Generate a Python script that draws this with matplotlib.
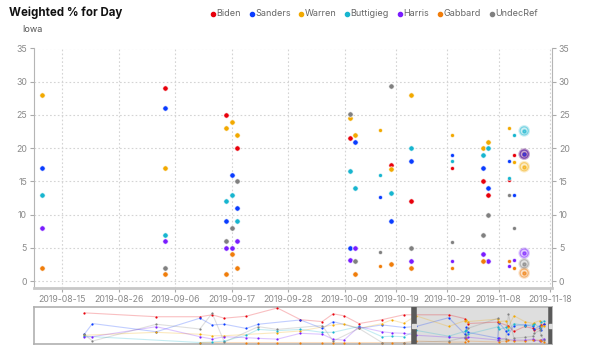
import numpy as np
import pandas as pd
import matplotlib
matplotlib.use("Agg")
import matplotlib.pyplot as plt
import matplotlib.dates as mdates
from matplotlib.lines import Line2D

plt.rcParams['font.family'] = ['Inter', 'DejaVu Sans']

nan = np.nan

# poll dates shown in the main chart
dates = ['2019-08-11', '2019-09-04', '2019-09-16', '2019-09-17', '2019-09-18',
         '2019-10-10', '2019-10-11', '2019-10-16', '2019-10-18', '2019-10-22',
         '2019-10-30', '2019-11-05', '2019-11-06', '2019-11-10', '2019-11-11',
         '2019-11-13']
small_dates = ['2019-10-16', '2019-10-30', '2019-11-10', '2019-11-11']
ring_date = '2019-11-13'

candidates = ['Biden', 'Sanders', 'Warren', 'Buttigieg', 'Harris', 'Gabbard', 'UndecRef']
colors = ['#e8000b', '#0a3cff', '#f2a900', '#17b5cf', '#7a1cff', '#f07d0a', '#808080']

biden = [nan, 29, 25, nan, 20, 21.5, nan, nan, 17.5, 12, 17, 15, 13, 15.2, 19, 19.1]
sanders = [17, 26, 9, 16, 11, 5, 21, 12.6, 9, 18, 18.9, 17, 14, 18, 13, 19.1]
warren = [28, 17, 23, 24, 22, 24.6, 22, 22.7, 16.8, 28, 22, 20, 21, 23, 17.9, 17.2]
buttigieg = [13, 7, 12, 13, 9, 16.6, 14, 16, 13.2, 20, 18, 19, 20, 15.5, 22, 22.6]
harris = [8, 6, 5, 5, 6, 3.1, 5, nan, nan, 3, 3, 4, 3, 2.3, 3.1, 4.2]
gabbard = [2, 1, 1, 4, 2, nan, 1, 2.2, 2.6, 2, 2, 3, nan, 3, 2, 1.2]
undecref = [nan, 2, 6, 8, 15, 25.2, 3, 4.4, 29.4, 5, 5.9, 7, 10, 12.9, 8, 2.6]
series = [biden, sanders, warren, buttigieg, harris, gabbard, undecref]

# earlier history only visible in the navigator strip
nav_dates = ['2018-12-10', '2018-12-16', '2019-02-01', '2019-03-05', '2019-03-14',
             '2019-03-23', '2019-04-08', '2019-04-17', '2019-05-01', '2019-05-18',
             '2019-06-03', '2019-06-11', '2019-06-19', '2019-06-30', '2019-07-17',
             '2019-07-24', '2019-08-02']
nav_biden = [31, nan, 27, 27, 29, 25.5, 27.5, nan, 36, 24, 22, 30, 28, 20, 24, nan, 29]
nav_sanders = [9, 20, 11.6, 25.5, 18.6, 19.3, 15, 19.3, nan, 23.7, 15, 22, nan, 15, 18.6, nan, 16]
nav_warren = [8, nan, 11, 9, 7.5, 7.5, nan, nan, 10.6, 12.4, nan, 18.6, 19.6, 15, 20, 23.7, 20.3]
nav_buttigieg = [7, nan, nan, 0.5, 1, 2, 8, 14, 12.7, 14, 11, 11, nan, 17, 6.5, 7, 6.5]
nav_harris = [6, 6.5, 16.8, 6.5, 4.1, 6.5, 5.5, 4.8, 4, 10, 9, 4, 3, 16.8, 11.6, 10.5, 10]
nav_gabbard = [nan, nan, nan, 0.5, nan, nan, 0.5, 0.5, 0.5, 0.5, 0.5, 0.5, 0.5, 0.5, 0.5, 0.5, 0.5]
nav_undecref = [9, 2, 19.3, 14.4, 30.6, 1, nan, 16.8, 14, nan, 18, 2, nan, 15, 0.5, nan, 0.5]
nav_series = [nav_biden, nav_sanders, nav_warren, nav_buttigieg, nav_harris, nav_gabbard, nav_undecref]

xticks = ['2019-08-15', '2019-08-26', '2019-09-06', '2019-09-17', '2019-09-28',
          '2019-10-09', '2019-10-19', '2019-10-29', '2019-11-08', '2019-11-18']
yticks = [0, 5, 10, 15, 20, 25, 30, 35]

d = pd.to_datetime(dates)
small_mask = d.isin(pd.to_datetime(small_dates))
ring_mask = d == pd.Timestamp(ring_date)
norm_mask = ~small_mask & ~ring_mask

fig = plt.figure(figsize=(6, 3.51), dpi=100)
ax = fig.add_axes([34 / 600, 1 - 288 / 351, 518 / 600, 239.5 / 351])

gridc = '#d4d4d4'
tc = '#8a8a8a'
for v in yticks:
    ax.axhline(v, color=gridc, lw=0.8, ls=(0, (1.5, 2)), zorder=0)
for t in xticks:
    ax.axvline(pd.Timestamp(t), color=gridc, lw=0.8, ls=(0, (1.5, 2)), zorder=0)

for vals, c in zip(series, colors):
    y = np.array(vals, dtype=float)
    ax.scatter(d[norm_mask], y[norm_mask], s=15, color=c, edgecolor='white', linewidth=0.5, zorder=3)
    ax.scatter(d[small_mask], y[small_mask], s=8, color=c, edgecolor='white', linewidth=0.4, zorder=3)
    ax.scatter(d[ring_mask], y[ring_mask], s=70, color=c, alpha=0.22, edgecolor='none', zorder=2)
    ax.scatter(d[ring_mask], y[ring_mask], s=34, facecolor='none', edgecolor=c, alpha=0.45, linewidth=0.9, zorder=3)
    ax.scatter(d[ring_mask], y[ring_mask], s=5, color=c, alpha=0.6, zorder=3)

ax.set_xlim(pd.Timestamp('2019-08-15') - pd.Timedelta(days=5.5),
            pd.Timestamp('2019-11-18') + pd.Timedelta(hours=10))
ax.set_ylim(-1.05, 35)
ax.set_xticks(pd.to_datetime(xticks))
ax.xaxis.set_major_formatter(mdates.DateFormatter('%Y-%m-%d'))
ax.set_yticks(yticks)
ax.tick_params(axis='both', colors='#aaaaaa', labelcolor=tc, labelsize=6.3, length=3, width=0.8)
ax.tick_params(axis='y', left=True, right=True, labelleft=True, labelright=True, pad=2)
ax.tick_params(axis='x', pad=2)
for s in ['left', 'right']:
    ax.spines[s].set_color('#b5b5b5')
    ax.spines[s].set_linewidth(0.8)
ax.spines['bottom'].set_color('#c8c8c8')
ax.spines['bottom'].set_linewidth(2)
ax.spines['top'].set_visible(False)
ax.patch.set_alpha(0)

# title, subtitle, legend
fig.text(9 / 600, 1 - 12.5 / 351, 'Weighted % for Day', fontsize=8.3, fontweight='bold',
         va='center', ha='left', color='#111111')
fig.text(22 / 600, 1 - 30 / 351, 'Iowa', fontsize=6.5, va='center', ha='left', color='#555555')
leg_x = [212.5, 252, 301, 346.5, 400, 440, 491.5]
for name, c, x in zip(candidates, colors, leg_x):
    fig.add_artist(Line2D([x / 600], [1 - 13.5 / 351], marker='o', markersize=3, color=c,
                          linestyle='none', transform=fig.transFigure))
    fig.text((x + 3.5) / 600, 1 - 13.5 / 351, name, fontsize=6.5, va='center', ha='left', color='#666666')

# navigator
nav = fig.add_axes([34 / 600, 1 - 344 / 351, 518 / 600, 37 / 351])
nd = pd.to_datetime(nav_dates).append(d)
for early, vals, c in zip(nav_series, series, colors):
    y = np.concatenate([np.array(early, dtype=float), np.array(vals, dtype=float)])
    ok = ~np.isnan(y)
    nav.plot(nd[ok], y[ok], color=c, lw=0.8, alpha=0.25, zorder=2)
    nav.scatter(nd[ok], y[ok], s=2.5, color=c, zorder=3, linewidth=0)
x0, x1 = ax.get_xlim()
nav.axvspan(mdates.num2date(x0), mdates.num2date(x1), color='#d3d3d3', alpha=0.75, zorder=1, lw=0)
for xx in (x0, x1):
    nav.axvline(mdates.num2date(xx), color='#5a5a5a', lw=4, zorder=4)
    nav.plot([mdates.num2date(xx)], [17.5], marker='s', markersize=2.5, color='#dddddd', zorder=5)
nav.set_xlim(pd.Timestamp('2018-11-03'), pd.Timestamp('2019-11-19'))
nav.set_ylim(-1, 37)
nav.set_xticks([])
nav.set_yticks([])
for s in nav.spines.values():
    s.set_color('#b0b0b0')
    s.set_linewidth(1.2)

fig.savefig('out.png', dpi=100)
